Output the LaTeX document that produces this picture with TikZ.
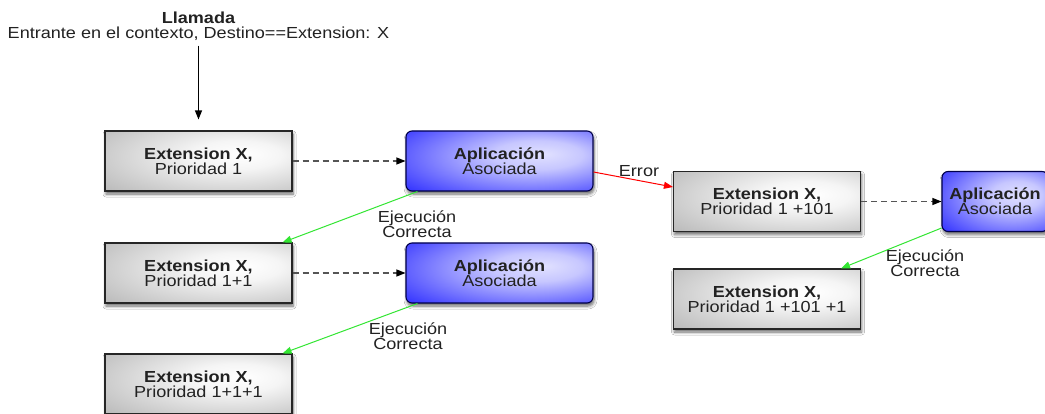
\documentclass[tikz,border=0pt]{standalone}
\usepackage{fontspec}
\setmainfont[FakeStretch=1.13]{Liberation Sans}
\usetikzlibrary{arrows.meta,shadows.blur,calc}

% soft glow fills for the two box kinds
\pgfdeclareradialshading{greyglow}{\pgfpoint{12bp}{6bp}}{%
  color(0bp)=(white); color(12bp)=(white!96!black);
  color(45bp)=(black!30); color(60bp)=(black!42); color(80bp)=(black!42)}
\pgfdeclareradialshading{blueglow}{\pgfpoint{12bp}{6bp}}{%
  color(0bp)=(blue!12!white); color(12bp)=(blue!22!white);
  color(45bp)=(blue!88!white); color(60bp)=(blue); color(80bp)=(blue)}

\definecolor{txt}{HTML}{222222}
\definecolor{okgreen}{HTML}{33E633}
\definecolor{dashgrey}{HTML}{555555}

\tikzset{
  every node/.style={text=txt, font=\fontsize{16}{15}\selectfont},
  boxshadow/.style={blur shadow={shadow xshift=1pt, shadow yshift=-3pt,
      shadow blur radius=3pt, shadow opacity=60, shadow blur steps=6}},
  extbox/.style={draw=black!85, line width=1.1pt, shading=greyglow,
    minimum width=187pt, minimum height=60pt, inner sep=0pt, align=center,
    boxshadow},
  appbox/.style={draw=blue!30!black, line width=1.1pt, shading=blueglow,
    rounded corners=6pt,
    minimum width=187pt, minimum height=60pt, inner sep=0pt, align=center,
    boxshadow},
  tolink/.style={dashgrey, line width=1.2pt, dash pattern=on 6pt off 4pt,
    -{Triangle[length=9pt,width=7pt,fill=black,color=black]}},
  okarrow/.style={okgreen, line width=1pt,
    -{Triangle[length=9pt,width=7pt]}},
  errarrow/.style={red, line width=1pt,
    -{Triangle[length=9pt,width=7pt]}},
  note/.style={align=center, inner sep=0pt},
}

\begin{document}
\begin{tikzpicture}[x=1pt,y=-1pt]
\clip (0,0) rectangle (1045,414);
\fill[white] (0,0) rectangle (1045,414);

% incoming call
\node[note] (call) at (198.5,26) {\textbf{Llamada}\\Entrante en el contexto, Destino==Extension: X};

% first priority chain
\node[extbox] (e1) at (198.5,161) {\textbf{Extension X,}\\Prioridad 1};
\node[appbox] (a1) at (499.5,161) {\textbf{Aplicación}\\Asociada};
\node[extbox] (e2) at (198.5,273) {\textbf{Extension X,}\\Prioridad 1+1};
\node[appbox] (a2) at (499.5,273) {\textbf{Aplicación}\\Asociada};
\node[extbox] (e3) at (198.5,384) {\textbf{Extension X,}\\Prioridad 1+1+1};

% error branch
\node[extbox] (e4) at (767,201.5) {\textbf{Extension X,}\\Prioridad 1 +101};
\node[appbox, minimum width=106pt] (a3) at (995,201.5) {\textbf{Aplicación}\\Asociada};
\node[extbox] (e5) at (767,299) {\textbf{Extension X,}\\Prioridad 1 +101 +1};

% arrow end points on the box borders
\coordinate (a1out) at ($(a1.south west)+(12,0)$);
\coordinate (e2in)  at ($(e2.north east)+(-10,0)$);
\coordinate (a2out) at ($(a2.south west)+(12,0)$);
\coordinate (e3in)  at ($(e3.north east)+(-10,0)$);
\coordinate (a3out) at ($(a3.south west)+(0,-4)$);
\coordinate (e5in)  at ($(e5.north east)+(-20,0)$);
\coordinate (a1err) at ($(a1.east)+(0,11)$);
\coordinate (e4err) at ($(e4.west)+(0,-14.5)$);

% connectors
\draw[line width=1.2pt, -{Triangle[length=9pt,width=7pt]}, shorten >=11pt]
  (call.south -| e1.north) ++(0,5) -- (e1.north);
\draw[tolink] (e1.east) -- (a1.west);
\draw[tolink] (e2.east) -- (a2.west);
\draw[tolink] (e4.east) -- (a3.west);
\draw[okarrow] (a1out) -- (e2in);
\draw[okarrow] (a2out) -- (e3in);
\draw[okarrow] (a3out) -- (e5in);
\draw[errarrow] (a1err) -- (e4err);

% connector labels
\node[note] (ok1) at (417,224) {Ejecución\\Correcta};
\node[note] (ok2) at (408,336) {Ejecución\\Correcta};
\node[note] (ok3) at (925,263) {Ejecución\\Correcta};
\node[note] (err) at (639,171) {Error};
\end{tikzpicture}
\end{document}
